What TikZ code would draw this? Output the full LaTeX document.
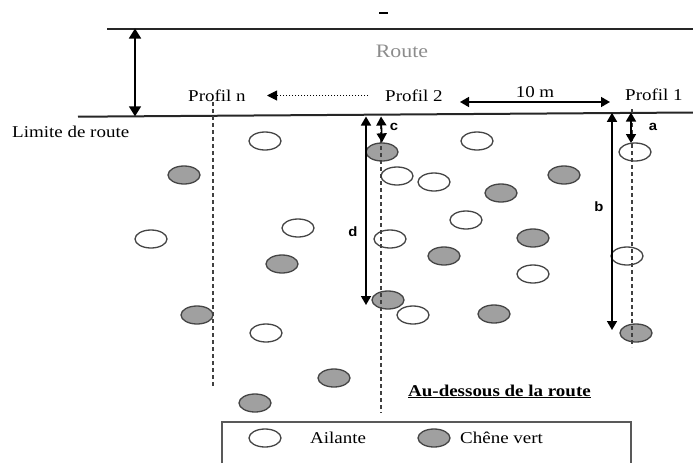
\documentclass[tikz,border=0pt]{standalone}
\usepackage{fontspec}
\setmainfont{Liberation Serif}[FakeStretch=1.15]
\newfontfamily\lblfont{Liberation Sans}[FakeStretch=1.1]
\usetikzlibrary{arrows.meta,shapes.geometric}
\definecolor{chene}{HTML}{A0A0A0}
\definecolor{edge}{HTML}{454545}
\tikzset{
  treebase/.style={ellipse, draw=edge, line width=1.3pt, minimum width=32pt, minimum height=18pt, inner sep=0pt},
  ail/.style={treebase, fill=white},
  che/.style={treebase, fill=chene},
  roadline/.style={line width=2pt, draw=black!85},
  dimarrow/.style={line width=1.6pt, {Triangle[width=10pt,length=9pt]}-{Triangle[width=10pt,length=9pt]}},
  profline/.style={line width=1.7pt, draw=black!75, dash pattern=on 4pt off 3pt},
  proftxt/.style={font=\fontsize{16.5}{18}\selectfont, inner sep=0pt},
  lbl/.style={font=\lblfont\bfseries\fontsize{13.5}{14}\selectfont, inner sep=0pt},
}
\begin{document}
\begin{tikzpicture}[x=1pt,y=-1pt]
\useasboundingbox (0,0) rectangle (693,463);
% road lines
\coordinate (topL) at (107,28.5);
\coordinate (topR) at (693,28.5);
\coordinate (botL) at (78,116.7);
\coordinate (botR) at (693,112.5);
\draw[roadline] (topL) -- (topR);
\draw[roadline] (botL) -- (botR);
\node[inner sep=0pt, minimum width=9pt, minimum height=2pt, fill=black] (dash) at (383,13) {};
% road width arrow
\coordinate (rwTop) at (135,28.5);
\coordinate (rwBot) at (135,116.3);
\draw[line width=1.7pt, {Triangle[width=12pt,length=10pt]}-{Triangle[width=12pt,length=10pt]}] (rwTop) -- (rwBot);
% texts
\node[font=\fontsize{19}{20}\selectfont, text=black!45, anchor=base, inner sep=0pt] (route) at (402,57) {Route};
\node[proftxt, anchor=base west] (pn) at (188,101) {Profil n};
\node[proftxt, anchor=base west] (p2) at (385,101) {Profil 2};
\node[proftxt, anchor=base west] (p1) at (625,100) {Profil 1};
\node[proftxt, anchor=base] (dix) at (535,97.5) {10 m};
\node[proftxt, anchor=base west] (lim) at (12,137) {Limite de route};
\node[proftxt, font=\fontsize{16.5}{18}\selectfont\bfseries, anchor=base west] (below) at (408,396) {\underline{Au-dessous de la route}};
% direction arrows
\coordinate (dotS) at (368,95.5);
\coordinate (dotE) at (267,95.5);
\draw[line width=1pt, dotted, -{Triangle[width=10pt,length=10pt]}] (dotS) -- (dotE);
\coordinate (tenL) at (460,102);
\coordinate (tenR) at (610,102);
\draw[dimarrow] (tenL) -- (tenR);
% trees
\node[ail] (t1) at (265,141) {};
\node[che] (t2) at (184,175) {};
\node[ail] (t3) at (151,239) {};
\node[ail] (t4) at (298,228) {};
\node[che] (t5) at (282,264) {};
\node[che] (t6) at (197,315) {};
\node[ail] (t7) at (266,333) {};
\node[che] (t8) at (334,378) {};
\node[che] (t9) at (255,403) {};
\node[che] (t10) at (382,152) {};
\node[ail] (t11) at (397,176) {};
\node[ail] (t12) at (434,182) {};
\node[ail] (t13) at (477,141) {};
\node[che] (t14) at (501,193) {};
\node[che] (t15) at (564,175) {};
\node[ail] (t16) at (466,220) {};
\node[ail] (t17) at (390,239) {};
\node[che] (t18) at (533,238) {};
\node[che] (t19) at (444,256) {};
\node[ail] (t20) at (533,274) {};
\node[che] (t21) at (388,300) {};
\node[ail] (t22) at (413,315) {};
\node[che] (t23) at (494,314) {};
\node[ail] (t24) at (635,152) {};
\node[ail] (t25) at (627,256) {};
\node[che] (t26) at (636,333) {};
% profile lines
\coordinate (pnT) at (213,102);
\coordinate (pnB) at (213,387);
\coordinate (p2T) at (381,118);
\coordinate (p2B) at (381,413);
\coordinate (p1T) at (632,109);
\coordinate (p1B) at (632,347);
\draw[profline] (pnT) -- (pnB);
\draw[profline] (p2T) -- (p2B);
\draw[profline] (p1T) -- (p1B);
% measurement arrows
\coordinate (cT) at (381,116.5);
\draw[dimarrow] (cT) -- (t10.north);
\node[lbl] (lc) at (394,127) {c};
\coordinate (dT) at (366,116.5);
\coordinate (dB) at (366,305);
\draw[dimarrow] (dT) -- (dB);
\node[lbl] (ld) at (353,232) {d};
\coordinate (aT) at (631,112.5);
\coordinate (aB) at (631,143);
\draw[dimarrow] (aT) -- (aB);
\node[lbl] (la) at (653,127) {a};
\coordinate (bT) at (612,112.8);
\coordinate (bB) at (612,330);
\draw[dimarrow] (bT) -- (bB);
\node[lbl] (lb) at (599,207) {b};
% legend
\coordinate (lgA) at (222,463);
\coordinate (lgB) at (222,422);
\coordinate (lgC) at (631,422);
\coordinate (lgD) at (631,463);
\draw[line width=1.3pt, draw=black!65] (lgA) -- (lgB) -- (lgC) -- (lgD);
\node[ail] (la1) at (265,438) {};
\node[proftxt, anchor=base west] (lat) at (310,443) {Ailante};
\node[che] (lc1) at (434,438) {};
\node[proftxt, anchor=base west] (lct) at (460,443) {Chêne vert};
\end{tikzpicture}
\end{document}
